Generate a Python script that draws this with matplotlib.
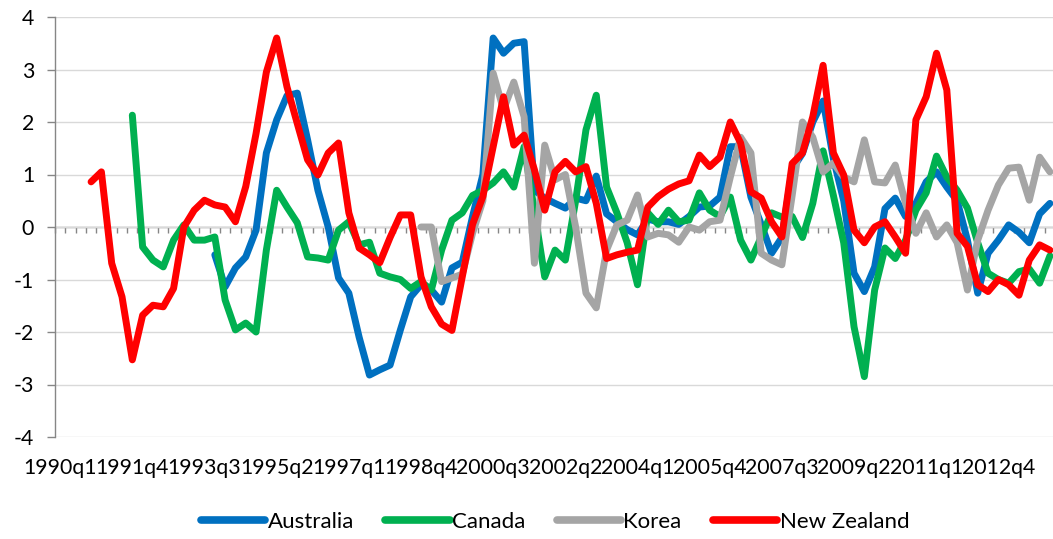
import numpy as np
import matplotlib
matplotlib.use("Agg")
import matplotlib.pyplot as plt
from matplotlib.lines import Line2D

nan = np.nan

# Categories: quarterly from 1990q1
quarters = [f"{1990 + k // 4}q{k % 4 + 1}" for k in range(97)]

australia = [nan] * 15 + [
    -0.53, -1.14, -0.78, -0.57, -0.06, 1.41, 2.04, 2.50, 2.55, 1.66,   # 15-24
    0.70, 0.00, -0.97, -1.26, -2.10, -2.82, -2.72, -2.63, -1.96, -1.33,  # 25-34
    -1.10, -1.20, -1.43, -0.78, -0.67, 0.20, 1.00, 3.60, 3.31, 3.50,     # 35-44
    3.53, 0.70, 0.55, 0.45, 0.36, 0.55, 0.50, 0.97, 0.25, 0.10,          # 45-54
    -0.05, -0.15, 0.15, 0.10, 0.10, 0.05, 0.20, 0.38, 0.40, 0.57,        # 55-64
    1.53, 1.53, 0.57, 0.05, -0.50, -0.20, 1.10, 1.40, 2.00, 2.40,        # 65-74
    1.30, 0.50, -0.88, -1.23, -0.76, 0.35, 0.55, 0.20, 0.45, 0.86,       # 75-84
    1.05, 0.76, 0.50, -0.25, -1.26, -0.50, -0.25, 0.04, -0.10, -0.30,    # 85-94
    0.25, 0.45]                                                          # 95-96

canada = [nan] * 7 + [
    2.13, -0.38, -0.63,                                                  # 7-9
    -0.76, -0.25, 0.04, -0.25, -0.25, -0.19, -1.39, -1.96, -1.83, -2.00, # 10-19
    -0.44, 0.70, 0.38, 0.08, -0.57, -0.59, -0.63, -0.06, 0.10, -0.34,    # 20-29
    -0.29, -0.88, -0.95, -1.00, -1.17, -1.04, -1.20, -0.44, 0.13, 0.27,  # 30-39
    0.60, 0.70, 0.84, 1.05, 0.76, 1.53, 0.30, -0.95, -0.44, -0.63,       # 40-49
    0.50, 1.85, 2.51, 0.76, 0.27, -0.30, -1.10, 0.27, 0.05, 0.32,        # 50-59
    0.10, 0.13, 0.65, 0.32, 0.20, 0.57, -0.25, -0.63, -0.19, 0.27,       # 60-69
    0.19, 0.20, -0.20, 0.45, 1.45, 0.60, -0.30, -1.90, -2.85, -1.20,     # 70-79
    -0.40, -0.60, -0.25, 0.32, 0.65, 1.35, 0.95, 0.70, 0.36, -0.30,      # 80-89
    -0.88, -1.00, -1.07, -0.85, -0.80, -1.07, -0.55]                     # 90-96

korea = [nan] * 35 + [
    0.00, 0.00, -1.04, -0.97, -0.90,                                     # 35-39
    -0.12, 0.50, 2.93, 2.23, 2.76, 2.10, -0.69, 1.56, 0.90, 1.00,        # 40-49
    0.00, -1.26, -1.54, -0.44, 0.04, 0.13, 0.61, -0.19, -0.12, -0.15,    # 50-59
    -0.29, 0.00, -0.06, 0.10, 0.13, 0.95, 1.71, 1.41, -0.50, -0.63,      # 60-69
    -0.72, 0.60, 2.00, 1.71, 1.05, 1.22, 0.95, 0.86, 1.66, 0.86,         # 70-79
    0.84, 1.18, 0.45, -0.12, 0.27, -0.19, 0.04, -0.30, -1.20, -0.25,     # 80-89
    0.32, 0.80, 1.12, 1.14, 0.51, 1.33, 1.05]                            # 90-96

new_zealand = [nan] * 3 + [
    0.86, 1.05, -0.69, -1.33, -2.53, -1.68, -1.49,                       # 3-9
    -1.52, -1.17, 0.00, 0.32, 0.51, 0.42, 0.38, 0.10, 0.77, 1.78,        # 10-19
    2.95, 3.60, 2.67, 1.97, 1.28, 0.99, 1.41, 1.60, 0.27, -0.40,         # 20-29
    -0.53, -0.68, -0.20, 0.23, 0.23, -0.95, -1.52, -1.85, -1.97, -0.95,  # 30-39
    0.05, 0.58, 1.53, 2.48, 1.56, 1.75, 1.09, 0.32, 1.05, 1.25,          # 40-49
    1.05, 1.15, 0.45, -0.60, -0.53, -0.48, -0.44, 0.38, 0.58, 0.72,      # 50-59
    0.82, 0.88, 1.37, 1.15, 1.33, 2.00, 1.60, 0.67, 0.55, 0.10,          # 60-69
    -0.19, 1.21, 1.41, 2.10, 3.08, 1.41, 0.99, -0.06, -0.30, 0.00,       # 70-79
    0.10, -0.19, -0.50, 2.04, 2.48, 3.31, 2.61, -0.12, -0.37, -1.10,     # 80-89
    -1.23, -1.00, -1.10, -1.30, -0.63, -0.34, -0.44]                     # 90-96

series_names = ["Australia", "Canada", "Korea", "New Zealand"]
series_colors = ["#0070C0", "#00B050", "#A5A5A5", "#FF0000"]
series_values = [australia, canada, korea, new_zealand]
y_ticks = [-4, -3, -2, -1, 0, 1, 2, 3, 4]

FONT = ["Lato", "DejaVu Sans"]
plt.rcParams["font.family"] = FONT

W, H = 1053, 539
fig = plt.figure(figsize=(W / 100, H / 100), dpi=100)
ax = fig.add_axes([55 / W, (H - 437) / H, (W - 55) / W, 420 / H])

x = np.arange(len(quarters))
for vals, col, name in zip(series_values, series_colors, series_names):
    ax.plot(x, np.array(vals, dtype=float), color=col, lw=5.0,
            solid_capstyle="round", solid_joinstyle="round", label=name,
            zorder=3)

cat_px = 10.31
ax.set_xlim(-0.5, -0.5 + (W - 55) / cat_px)
ax.set_ylim(-4, 4)

# y axis
ax.set_yticks(y_ticks)
ax.set_yticklabels([str(v) for v in y_ticks])
ax.yaxis.grid(True, color="#D9D9D9", lw=1.0, zorder=0)
ax.set_axisbelow(True)
for s in ["top", "right", "bottom"]:
    ax.spines[s].set_visible(False)
ax.spines["left"].set_color("#868686")
ax.spines["left"].set_linewidth(1.0)
ax.tick_params(axis="y", length=6, width=1.0, color="#868686", pad=9,
               labelcolor="black")

# x labels at the bottom
lab_idx = list(range(0, len(quarters), 7))
ax.set_xticks(lab_idx)
ax.set_xticklabels([quarters[i] for i in lab_idx])
ax.tick_params(axis="x", length=0, pad=15, labelcolor="black")

# horizontal axis line at zero with category tick marks
sec = ax.secondary_xaxis(0.5)
sec.set_xticks(np.arange(-0.5, len(quarters), 1.0))
sec.set_xticklabels([])
sec.tick_params(axis="x", direction="in", length=4, width=1.0, color="#868686")
for sp in sec.spines.values():
    sp.set_color("#868686")
    sp.set_linewidth(1.0)

# calibrate font size so labels fit the category spacing like the original
fs = 14.0
for t in ax.get_xticklabels() + ax.get_yticklabels():
    t.set_fontsize(fs)
fig.canvas.draw()
r = fig.canvas.get_renderer()
w = ax.get_xticklabels()[0].get_window_extent(r).width
fs = fs * 73.5 / w
for t in ax.get_xticklabels() + ax.get_yticklabels():
    t.set_fontsize(fs)

handles = [Line2D([], [], color=c, lw=5.5, solid_capstyle="round")
           for c in series_colors]
fig.legend(handles, series_names, loc="center",
           bbox_to_anchor=(555 / W, 1 - 522 / H), ncol=4, frameon=False,
           fontsize=fs * 1.05, handlelength=2.9, handletextpad=0.1,
           columnspacing=1.4)

fig.savefig("out.png", dpi=100)
